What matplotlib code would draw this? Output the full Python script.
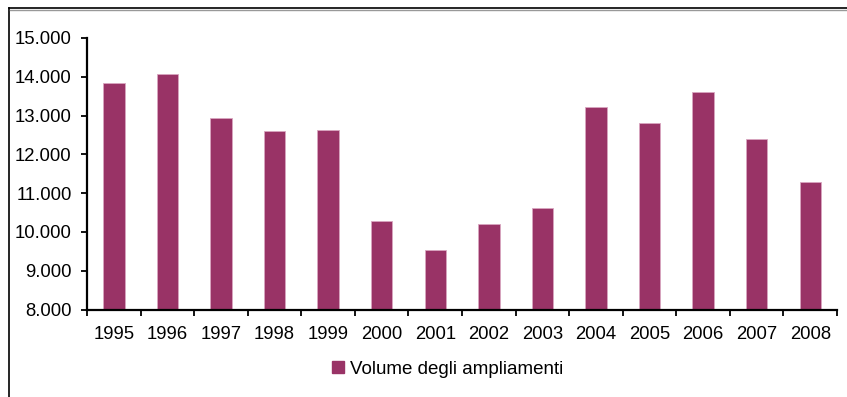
import matplotlib
matplotlib.use("Agg")
import matplotlib.pyplot as plt
from matplotlib.lines import Line2D
from matplotlib.ticker import FixedLocator, FuncFormatter
import numpy as np

years = ["1995", "1996", "1997", "1998", "1999", "2000", "2001",
         "2002", "2003", "2004", "2005", "2006", "2007", "2008"]
volume = [13850, 14060, 12930, 12590, 12630, 10280, 9530,
          10200, 10610, 13220, 12800, 13600, 12390, 11290]
series_name = "Volume degli ampliamenti"
y_ticks = [8000, 9000, 10000, 11000, 12000, 13000, 14000, 15000]

plt.rcParams["font.family"] = ["Liberation Sans", "DejaVu Sans"]

W, H = 847, 397
fig = plt.figure(figsize=(W / 100, H / 100), dpi=100)
ax = fig.add_axes([87 / W, 1 - 309.5 / H, (837 - 87) / W, (309.5 - 38) / H])

x = np.arange(len(years))
ax.bar(x, volume, width=0.4, color="#993366", edgecolor="#d9a6c0",
       linewidth=0.6, zorder=2)

ax.set_xlim(-0.5, len(years) - 0.5)
ax.set_ylim(y_ticks[0], y_ticks[-1])
ax.set_yticks(y_ticks)
ax.yaxis.set_major_formatter(FuncFormatter(lambda v, p: f"{int(v):,}".replace(",", ".")))

ax.set_xticks(x)
ax.set_xticklabels(years)
ax.xaxis.set_minor_locator(FixedLocator(np.arange(-0.5, len(years), 1.0)))
ax.tick_params(axis="x", which="major", length=0, pad=12, labelsize=13.3)
ax.tick_params(axis="x", which="minor", length=4.5, width=1.3, direction="out")
ax.tick_params(axis="y", length=4, width=1.3, direction="out", pad=7, labelsize=13.3)

for side in ("top", "right"):
    ax.spines[side].set_visible(False)
for side in ("left", "bottom"):
    ax.spines[side].set_linewidth(1.6)
    ax.spines[side].set_zorder(3)

handle = Line2D([], [], marker="s", linestyle="none", markersize=8,
                markerfacecolor="#993366", markeredgecolor="#993366")
fig.legend([handle], [series_name], loc="center", bbox_to_anchor=(446 / W, 1 - 369 / H),
           frameon=False, fontsize=13.5, handletextpad=0.1, handlelength=1.0)

# outer chart frame (top and left edges)
fig.add_artist(Line2D([8.5 / W, 8.5 / W], [0, 1 - 8 / H], color="black", lw=1.2,
                      transform=fig.transFigure))
fig.add_artist(Line2D([8.5 / W, 1], [1 - 8 / H, 1 - 8 / H], color="black", lw=1.2,
                      transform=fig.transFigure))
fig.add_artist(Line2D([9.5 / W, 1], [1 - 9.5 / H, 1 - 9.5 / H], color="#999999", lw=1.0,
                      transform=fig.transFigure))

fig.savefig("out.png", dpi=100)
